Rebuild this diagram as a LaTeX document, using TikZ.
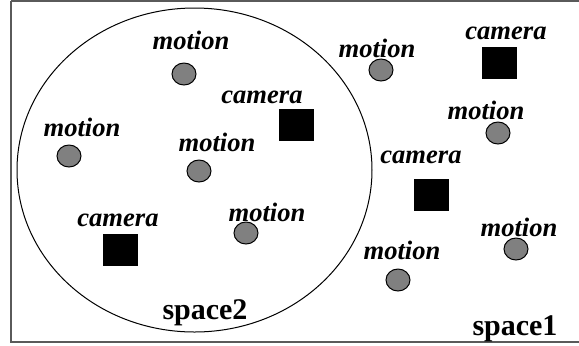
\documentclass[tikz,border=0pt]{standalone}
\usepackage{fontspec}
\setmainfont{Liberation Serif}
\usetikzlibrary{shapes.geometric}

\definecolor{motiongray}{HTML}{808080}
\definecolor{framegray}{HTML}{5A5A5A}

\begin{document}
\begin{tikzpicture}[
		x=0.5pt,
		y=-0.5pt,
		every node/.style={
			inner sep=0pt
		},
		motionnode/.style={
			ellipse,
			draw=black,
			line width=0.5pt,
			fill=motiongray,
			minimum width=12pt,
			minimum height=11pt
		},
		cameranode/.style={
			rectangle,
			fill=black,
			minimum width=17.5pt,
			minimum height=16pt
		},
		devlabel/.style={
			font=\fontsize{13.3}{16}\selectfont\bfseries\itshape
		},
		spacelabel/.style={
			font=\fontsize{15}{18}\selectfont\bfseries,
			anchor=base
		}
		]
		
		\useasboundingbox (0,0) rectangle (579,345);
		
		%--------------------------------------------------
		% Spaces
		%--------------------------------------------------
		
		\draw[framegray, line width=1pt] (10.5,1) -- (10.5,342) -- (579,342);
		\draw[framegray, line width=1pt] (10.5,1) -- (579,1);
		\draw[line width=0.5pt] (194.5,170) ellipse [x radius=177.5, y radius=162];
		
		\node[spacelabel] (space2) at (205,319) {space2};
		\node[spacelabel] (space1) at (515,335) {space1};
		
		%--------------------------------------------------
		% Motion sensors
		%--------------------------------------------------
		
		\node[motionnode] (m1) at (184,74)  {};
		\node[motionnode] (m2) at (69,156)  {};
		\node[motionnode] (m3) at (199,171) {};
		\node[motionnode] (m4) at (246,233) {};
		\node[motionnode] (m5) at (381,70)  {};
		\node[motionnode] (m6) at (498,133) {};
		\node[motionnode] (m7) at (516,249) {};
		\node[motionnode] (m8) at (398,280) {};
		
		\node[devlabel] (m1lbl) at (191,40)  {motion};
		\node[devlabel] (m2lbl) at (82,127)  {motion};
		\node[devlabel] (m3lbl) at (217,142) {motion};
		\node[devlabel] (m4lbl) at (267,212) {motion};
		\node[devlabel] (m5lbl) at (377,48)  {motion};
		\node[devlabel] (m6lbl) at (486,110) {motion};
		\node[devlabel] (m7lbl) at (519,227) {motion};
		\node[devlabel] (m8lbl) at (402,250) {motion};
		
		%--------------------------------------------------
		% Cameras
		%--------------------------------------------------
		
		\node[cameranode] (c1) at (499,63)  {};
		\node[cameranode] (c2) at (296,125) {};
		\node[cameranode] (c3) at (431,195) {};
		\node[cameranode] (c4) at (120,250) {};
		
		\node[devlabel] (c1lbl) at (506,33)  {camera};
		\node[devlabel] (c2lbl) at (262,97)  {camera};
		\node[devlabel] (c3lbl) at (421,157) {camera};
		\node[devlabel] (c4lbl) at (118,220) {camera};
		
	\end{tikzpicture}
\end{document}
